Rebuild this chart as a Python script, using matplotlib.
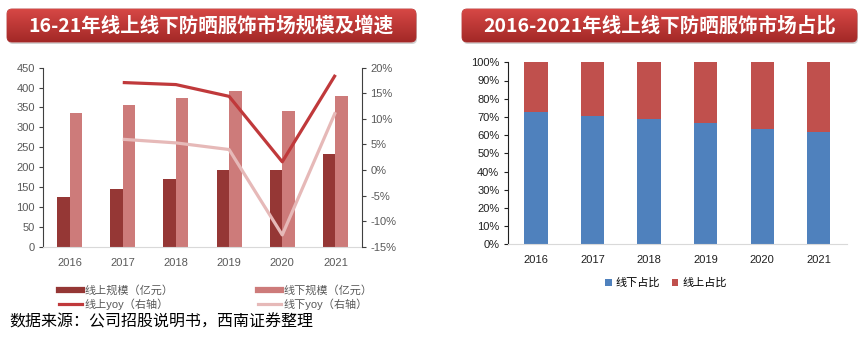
import matplotlib
matplotlib.use("Agg")
import matplotlib.pyplot as plt
import numpy as np
from matplotlib.patches import FancyBboxPatch
from matplotlib.lines import Line2D
from matplotlib.ticker import FuncFormatter, MultipleLocator

plt.rcParams['font.family'] = ['Liberation Sans', 'Noto Sans CJK SC', 'DejaVu Sans']

years = ['2016', '2017', '2018', '2019', '2020', '2021']
online_scale = [124, 144, 170, 192, 194, 232]
offline_scale = [335, 355, 375, 391, 341, 379]
online_yoy = [np.nan, 17.1, 16.7, 14.4, 1.6, 18.6]
offline_yoy = [np.nan, 6.0, 5.3, 4.0, -12.7, 11.3]
offline_share = [72.7, 70.5, 69.0, 66.7, 63.4, 61.7]
online_share = [100 - v for v in offline_share]

title_left = '16-21年线上线下防晒服饰市场规模及增速'
title_right = '2016-2021年线上线下防晒服饰市场占比'
source = '数据来源：公司招股说明书，西南证券整理'

W, H = 866, 352
fig = plt.figure(figsize=(W / 100, H / 100), dpi=100)
fig.patch.set_facecolor('white')

c_on = '#953735'
c_off = '#CD7B7A'
c_on_l = '#C0393B'
c_off_l = '#E6B9B8'
c_blue = '#4F81BD'
c_red = '#C0504D'
grey_txt = '#595959'


def title_box(x0, x1, y0, y1, text):
    bx = fig.add_axes([0, 0, 1, 1], zorder=5)
    bx.set_xlim(0, W)
    bx.set_ylim(H, 0)
    bx.axis('off')
    bx.patch.set_alpha(0)
    sh = FancyBboxPatch((x0 + 1, y0 + 2), x1 - x0, y1 - y0,
                        boxstyle='round,pad=0,rounding_size=5',
                        fc='#9a9a9a', ec='none', alpha=0.45)
    bx.add_patch(sh)
    box = FancyBboxPatch((x0, y0), x1 - x0, y1 - y0,
                         boxstyle='round,pad=0,rounding_size=5',
                         fc='none', ec='#B03030', lw=0.6)
    bx.add_patch(box)
    grad = np.linspace(0, 1, 64).reshape(-1, 1)
    top = np.array([0xD6, 0x48, 0x45]) / 255
    bot = np.array([0xA3, 0x28, 0x27]) / 255
    img = top + (bot - top) * grad[:, :, None]
    im = bx.imshow(img, extent=(x0, x1, y1, y0), aspect='auto', zorder=1)
    im.set_clip_path(box)
    bx.text((x0 + x1) / 2, (y0 + y1) / 2 + 0.5, text, color='white',
            fontsize=14, fontweight='bold', ha='center', va='center',
            family=['Noto Sans CJK SC', 'DejaVu Sans'], zorder=3)


title_box(7, 416, 9, 42, title_left)
title_box(462, 857, 9, 42, title_right)

# ---------------- left chart ----------------
ax = fig.add_axes([43 / W, 1 - 246.7 / H, (362 - 43) / W, (246.7 - 67.7) / H])
x = np.arange(len(years))
bw = 0.235
ax.bar(x - bw / 2, online_scale, bw, color=c_on, zorder=2)
ax.bar(x + bw / 2, offline_scale, bw, color=c_off, zorder=2)
ax.set_xlim(-0.5, len(years) - 0.5)
ax.set_ylim(0, 450)
ax.yaxis.set_major_locator(MultipleLocator(50))
ax.set_xticks(x)
ax.set_xticklabels(years)
for s in ['top', 'right']:
    ax.spines[s].set_visible(False)
ax.spines['bottom'].set_color('#D9D9D9')
ax.spines['left'].set_color('#404040')
ax.tick_params(axis='x', length=0, pad=8, labelsize=8, labelcolor=grey_txt)
ax.tick_params(axis='y', length=3, width=0.8, color='#404040', labelsize=8,
               labelcolor=grey_txt, pad=3)

ax2 = ax.twinx()
ax2.plot(x, online_yoy, color=c_on_l, lw=2.3, zorder=3, solid_capstyle='butt')
ax2.plot(x, offline_yoy, color=c_off_l, lw=2.3, zorder=3, solid_capstyle='butt')
ax2.set_ylim(-15, 20)
ax2.yaxis.set_major_locator(MultipleLocator(5))
ax2.yaxis.set_major_formatter(FuncFormatter(lambda v, p: f'{v:.0f}%'))
for s in ['top', 'left', 'bottom']:
    ax2.spines[s].set_visible(False)
ax2.spines['right'].set_color('#404040')
ax2.tick_params(axis='y', length=3, width=0.8, color='#404040', labelsize=8,
                labelcolor=grey_txt, pad=3)

handles = [
    Line2D([], [], color=c_on, lw=4.5),
    Line2D([], [], color=c_on_l, lw=2.3),
    Line2D([], [], color=c_off, lw=4.5),
    Line2D([], [], color=c_off_l, lw=2.3),
]
labels = ['线上规模（亿元）', '线上yoy（右轴）', '线下规模（亿元）', '线下yoy（右轴）']
fig.legend(handles, labels, ncol=2, frameon=False,
           labelcolor=grey_txt, loc='center left',
           bbox_to_anchor=(53 / W, 1 - 297.5 / H), handlelength=2.1,
           handletextpad=0.2, columnspacing=7.6, labelspacing=0.25,
           borderpad=0, prop={'family': ['Liberation Sans', 'Noto Sans CJK SC'], 'size': 8})

# ---------------- right chart ----------------
bx = fig.add_axes([507.7 / W, 1 - 244.3 / H, (847 - 507.7) / W, (244.3 - 62.3) / H])
bwr = 0.41
bx.bar(x, offline_share, bwr, color=c_blue, label='线下占比', zorder=2)
bx.bar(x, online_share, bwr, bottom=offline_share, color=c_red, label='线上占比', zorder=2)
bx.set_xlim(-0.5, len(years) - 0.5)
bx.set_ylim(0, 100)
bx.yaxis.set_major_locator(MultipleLocator(10))
bx.yaxis.set_major_formatter(FuncFormatter(lambda v, p: f'{v:.0f}%'))
bx.set_xticks(x)
bx.set_xticklabels(years)
for s in ['top', 'right']:
    bx.spines[s].set_visible(False)
bx.spines['bottom'].set_color('#D9D9D9')
bx.spines['left'].set_color('#202020')
bx.tick_params(axis='x', length=0, pad=8, labelsize=8, labelcolor='#202020')
bx.tick_params(axis='y', length=3, width=0.8, color='#202020', labelsize=8,
               labelcolor='#202020', pad=3)
fig.legend(*bx.get_legend_handles_labels(), ncol=2, frameon=False,
           loc='center', bbox_to_anchor=(666 / W, 1 - 283 / H),
           handlelength=0.6, handleheight=0.6, handletextpad=0.4,
           columnspacing=1.0, borderpad=0,
           prop={'family': ['Noto Sans CJK SC', 'DejaVu Sans'], 'size': 8})

fig.text(9 / W, 1 - 322 / H, source, fontsize=11.5, ha='left', va='center',
         color='black', style='italic', family=['Noto Sans CJK SC', 'DejaVu Sans'])

fig.savefig('out.png', dpi=100, facecolor='white')
